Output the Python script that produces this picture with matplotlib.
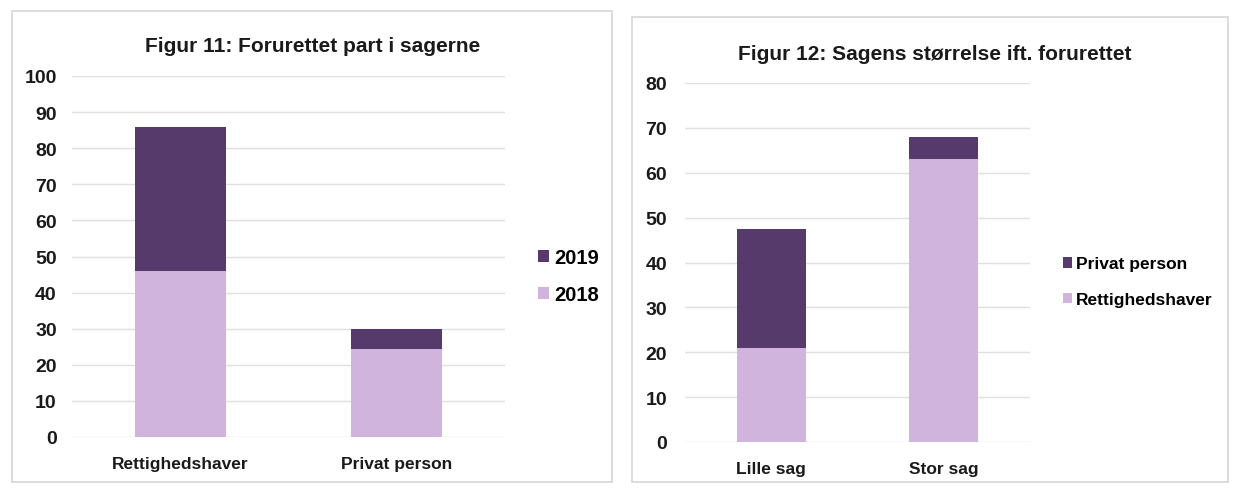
import matplotlib
matplotlib.use("Agg")
import matplotlib.pyplot as plt
from matplotlib.patches import Rectangle

plt.rcParams['font.family'] = ['Liberation Sans', 'DejaVu Sans']

# Figure 11 data
cats11 = ["Rettighedshaver", "Privat person"]
s2018 = [46, 24.5]
s2019 = [40, 5.5]

# Figure 12 data
cats12 = ["Lille sag", "Stor sag"]
rettighed = [21, 63]
privat = [26.5, 5]

dark = "#553a6b"
light = "#d0b4de"
grid_c = "#e0e0e0"

W, H = 1236, 489
fig = plt.figure(figsize=(W/100, H/100), dpi=100)

def fx(px): return px / W
def fy(py): return 1 - py / H

# panel borders
fig.patches.append(Rectangle((fx(12), fy(483)), fx(612) - fx(12), fy(12) - fy(483),
                             transform=fig.transFigure, fill=False, edgecolor="#d6d6d6", lw=1.2))
fig.patches.append(Rectangle((fx(632), fy(483)), fx(1228) - fx(632), fy(18) - fy(483),
                             transform=fig.transFigure, fill=False, edgecolor="#d6d6d6", lw=1.2))

def style(ax, ymax, ypad):
    ax.set_xlim(-0.5, 1.5)
    ax.set_ylim(0, ymax)
    ax.set_yticks(range(0, ymax + 1, 10))
    ax.yaxis.grid(True, color=grid_c, lw=1)
    ax.set_axisbelow(True)
    for s in ax.spines.values():
        s.set_visible(False)
    ax.tick_params(axis='both', length=0)
    ax.tick_params(axis='y', pad=ypad, labelsize=14)
    ax.tick_params(axis='x', pad=14, labelsize=12.5)
    for lab in ax.get_yticklabels() + ax.get_xticklabels():
        lab.set_fontweight('bold')
        lab.set_color('#1a1a1a')

# Figure 11
ax1 = fig.add_axes([fx(72), fy(438), fx(505) - fx(72), fy(77) - fy(438)])
x = range(len(cats11))
ax1.bar(x, s2018, width=0.42, color=light, label="2018")
ax1.bar(x, s2019, width=0.42, bottom=s2018, color=dark, label="2019")
ax1.set_xticks(list(x))
ax1.set_xticklabels(cats11)
style(ax1, 100, 11)
h, l = ax1.get_legend_handles_labels()
ax1.legend(h[::-1], l[::-1], loc='center left', bbox_to_anchor=(1.035, 0.445),
           frameon=False, handlelength=0.55, handleheight=0.55, handletextpad=0.25,
           labelspacing=0.9, prop={'size': 14.5, 'weight': 'bold'})
fig.text(fx(313), fy(47), "Figur 11: Forurettet part i sagerne", ha='center', va='center',
         fontsize=15, fontweight='bold', color='#1a1a1a')

# Figure 12
ax2 = fig.add_axes([fx(685), fy(443), fx(1030) - fx(685), fy(84) - fy(443)])
x2 = range(len(cats12))
ax2.bar(x2, rettighed, width=0.4, color=light, label="Rettighedshaver")
ax2.bar(x2, privat, width=0.4, bottom=rettighed, color=dark, label="Privat person")
ax2.set_xticks(list(x2))
ax2.set_xticklabels(cats12)
style(ax2, 80, 13)
h, l = ax2.get_legend_handles_labels()
ax2.legend(h[::-1], l[::-1], loc='center left', bbox_to_anchor=(1.05, 0.446),
           frameon=False, handlelength=0.55, handleheight=0.55, handletextpad=0.2,
           labelspacing=1.2, prop={'size': 12.5, 'weight': 'bold'})
fig.text(fx(935), fy(55), "Figur 12: Sagens størrelse ift. forurettet", ha='center', va='center',
         fontsize=15, fontweight='bold', color='#1a1a1a')

fig.savefig("out.png", dpi=100, facecolor='white')
